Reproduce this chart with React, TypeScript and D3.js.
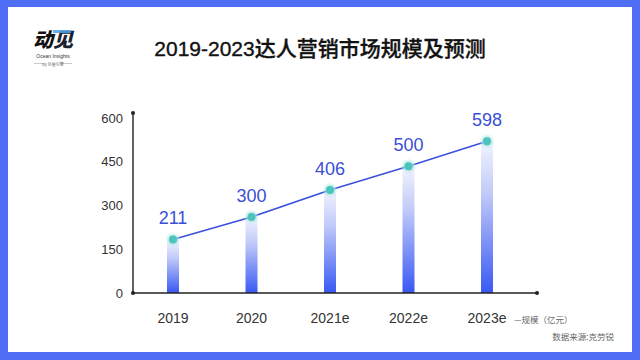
import React from "react";
import * as d3 from "d3";

const categories = ["2019", "2020", "2021e", "2022e", "2023e"];
const values = [211, 300, 406, 500, 598];
const yTicks = [0, 150, 300, 450, 600];
const title = "2019-2023达人营销市场规模及预测";
const legendLabel = "—规模（亿元）";
const sourceLabel = "数据来源:克劳锐";

const W = 640;
const H = 360;
const LATIN = "'Liberation Sans', Arial, 'Noto Sans CJK SC', sans-serif";
const CJK = "'Noto Sans CJK SC', 'Liberation Sans', sans-serif";

export default function App() {
  React.useEffect(() => {
    document.body.style.margin = "0";
  }, []);

  const x = d3.scalePoint<string>().domain(categories).range([173, 487]);
  const yAxis = d3.scaleLinear().domain([0, 600]).range([293, 118]);
  // the picture draws the marks on a slightly compressed scale
  const yMark = d3.scaleLinear().domain([0, 690]).range([293, 118]);

  const pts = categories.map((c, i) => ({ c, v: values[i] }));
  const line = d3
    .line<{ c: string; v: number }>()
    .x((d) => x(d.c) as number)
    .y((d) => yMark(d.v));

  const axisLeft = 133;
  const axisRight = 537;
  const base = yAxis(0);
  const axisTop = yAxis(600) - 5;
  const barW = 12;

  return (
    <svg width={W} height={H} style={{ display: "block", position: "absolute", left: 0, top: 0 }}>
      <defs>
        <linearGradient id="barGrad" x1="0" y1="0" x2="0" y2="1">
          <stop offset="0" stopColor="#f2f4fe" />
          <stop offset="0.35" stopColor="#c0c9f9" />
          <stop offset="1" stopColor="#3858f3" />
        </linearGradient>
        <radialGradient id="glow">
          <stop offset="0.4" stopColor="#9fe3dc" stopOpacity="0.9" />
          <stop offset="1" stopColor="#c8f0ec" stopOpacity="0" />
        </radialGradient>
      </defs>
      <rect x={0} y={0} width={W} height={H} fill="#506ef5" />
      <rect x={8} y={7} width={624} height={345} fill="#ffffff" />

      {/* logo */}
      <g>
        <text x={33} y={47} fontFamily={CJK} fontSize={20} fontWeight={900} fill="#111" fontStyle="italic">
          动<tspan fill="#1d2230">见</tspan>
        </text>
        <rect x={53} y={30} width={18} height={3} fill="#4fa3e8" opacity={0.85} />
        <text x={53} y={57.5} textAnchor="middle" fontFamily={LATIN} fontSize={5} fill="#333">
          Ocean Insights
        </text>
        <line x1={34} x2={44} y1={63.5} y2={63.5} stroke="#999" strokeWidth={0.5} />
        <line x1={62} x2={72} y1={63.5} y2={63.5} stroke="#999" strokeWidth={0.5} />
        <text x={53} y={65.5} textAnchor="middle" fontFamily={CJK} fontSize={4} fill="#666">
          By 巨量引擎
        </text>
      </g>

      <text
        x={320}
        y={56}
        textAnchor="middle"
        fontFamily={LATIN}
        fontSize={21}
        fontWeight={500}
        fill="#111"
        stroke="#111"
        strokeWidth={0.35}
      >
        {title}
      </text>

      {/* bars */}
      {pts.map((d) => (
        <rect
          key={"b" + d.c}
          x={(x(d.c) as number) - barW / 2}
          y={yMark(d.v)}
          width={barW}
          height={base - yMark(d.v)}
          fill="url(#barGrad)"
        />
      ))}

      {/* axes */}
      <line x1={axisLeft} x2={axisLeft} y1={axisTop} y2={base} stroke="#222" strokeWidth={1.4} />
      <line x1={axisLeft} x2={axisRight} y1={base} y2={base} stroke="#222" strokeWidth={1.4} />
      <circle cx={axisLeft} cy={axisTop} r={2} fill="#222" />
      <circle cx={axisLeft} cy={base} r={2} fill="#222" />
      <circle cx={axisRight} cy={base} r={2} fill="#222" />

      {yTicks.map((t) => (
        <text key={"t" + t} x={123} y={yAxis(t) + 4.5} textAnchor="end" fontFamily={LATIN} fontSize={13} fill="#333">
          {t}
        </text>
      ))}

      {categories.map((c) => (
        <text key={"c" + c} x={x(c) as number} y={323} textAnchor="middle" fontFamily={LATIN} fontSize={14} fill="#333">
          {c}
        </text>
      ))}

      {/* line */}
      <path d={line(pts) || ""} fill="none" stroke="#3a50e0" strokeWidth={1.6} />
      {pts.map((d) => (
        <g key={"p" + d.c}>
          <circle cx={x(d.c) as number} cy={yMark(d.v)} r={8} fill="url(#glow)" />
          <circle cx={x(d.c) as number} cy={yMark(d.v)} r={4} fill="#4cc3bd" />
          <text
            x={x(d.c) as number}
            y={yMark(d.v) - 15}
            textAnchor="middle"
            fontFamily={LATIN}
            fontSize={18}
            fill="#3a4fd6"
          >
            {d.v}
          </text>
        </g>
      ))}

      <text x={514} y={323} fontFamily={CJK} fontSize={8.5} fill="#666">
        {legendLabel}
      </text>
      <text x={614} y={340} textAnchor="end" fontFamily={CJK} fontSize={8.5} fill="#666">
        {sourceLabel}
      </text>
    </svg>
  );
}
